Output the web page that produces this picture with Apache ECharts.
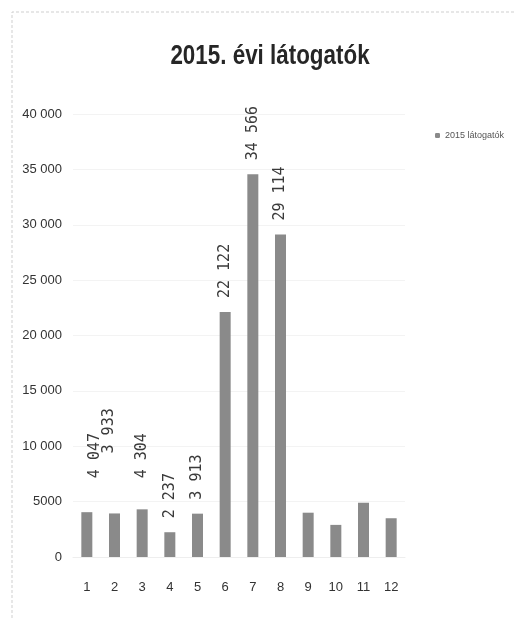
<!DOCTYPE html>
<html>
<head>
<meta charset="utf-8">
<script src="https://cdn.jsdelivr.net/npm/echarts@6/dist/echarts.min.js"></script>
<style>
  html, body { margin: 0; padding: 0; background: #fff; }
  #chart { width: 515px; height: 618px; }
</style>
</head>
<body>
<div id="chart"></div>
<script>
// havi látogatók 2015
const months = ['1', '2', '3', '4', '5', '6', '7', '8', '9', '10', '11', '12'];
const visitors = [4047, 3933, 4304, 2237, 3913, 22122, 34566, 29114, 4000, 2900, 4900, 3500];
const labelled = [true, true, true, true, true, true, true, true, false, false, false, false];
const yTicks = [0, 5000, 10000, 15000, 20000, 25000, 30000, 35000, 40000];
const seriesName = '2015 látogatók';
const titleText = '2015. évi látogatók';

// magyar ezres tagolás
function fmt(v, small) {
  if (small && v < 10000) return String(v);
  return String(v).replace(/\B(?=(\d{3})+(?!\d))/g, ' ');
}

// a kézzel arrébb tett feliratok az eredetin
const labelGap = { 0: 34, 1: 60, 2: 31 };
const labelShift = { 0: [0, 8], 1: [0, -5] };

const barData = visitors.map(function (v, i) {
  const item = { value: v };
  if (!labelled[i]) {
    item.label = { show: false };
  } else if (labelGap[i] !== undefined) {
    item.label = { distance: labelGap[i], offset: labelShift[i] || [0, 0] };
  }
  return item;
});

const axisFont = 'Liberation Sans';
const myChart = echarts.init(document.getElementById('chart'));
myChart.setOption({
  backgroundColor: '#fff',
  animation: false,
  legend: {
    data: [seriesName],
    left: 430,
    top: 126,
    itemWidth: 5,
    itemHeight: 5,
    itemGap: 3,
    textStyle: { fontFamily: axisFont, fontSize: 9, color: '#555' }
  },
  grid: {
    left: 73,
    right: 110,
    top: 114,
    bottom: 61
  },
  xAxis: {
    type: 'category',
    data: months,
    axisLine: { show: true, lineStyle: { color: '#eeeeee' } },
    axisTick: { show: false },
    axisLabel: { margin: 24, fontFamily: axisFont, fontSize: 13, color: '#333' }
  },
  yAxis: {
    type: 'value',
    min: 0,
    max: yTicks[yTicks.length - 1],
    interval: yTicks[1] - yTicks[0],
    axisLine: { show: false },
    axisTick: { show: false },
    splitLine: { lineStyle: { color: '#f3f3f3' } },
    axisLabel: {
      margin: 11,
      fontFamily: axisFont,
      fontSize: 13,
      color: '#333',
      formatter: function (v) { return fmt(v, true); }
    }
  },
  series: [{
    name: seriesName,
    type: 'bar',
    data: barData,
    barWidth: 11,
    itemStyle: { color: '#8a8a8a' },
    label: {
      show: true,
      position: 'top',
      distance: 14,
      rotate: 90,
      align: 'left',
      verticalAlign: 'middle',
      fontFamily: 'DejaVu Sans Mono',
      fontSize: 15,
      color: '#3a3a3a',
      formatter: function (p) { return fmt(p.value, false); }
    }
  }],
  graphic: [{
    type: 'polyline',
    shape: { points: [[12, 618], [12, 12], [515, 12]] },
    style: { stroke: '#cfcfcf', lineWidth: 1, lineDash: [3, 2], fill: null },
    silent: true
  }, {
    // cím: keskenyebb betű, mint az eredeti Calibri
    type: 'text',
    x: 270,
    y: 42,
    scaleX: 0.8,
    silent: true,
    style: {
      text: titleText,
      textAlign: 'center',
      textVerticalAlign: 'top',
      fontFamily: axisFont,
      fontWeight: 'bold',
      fontSize: 28,
      fill: '#262626'
    }
  }]
});
</script>
</body>
</html>
